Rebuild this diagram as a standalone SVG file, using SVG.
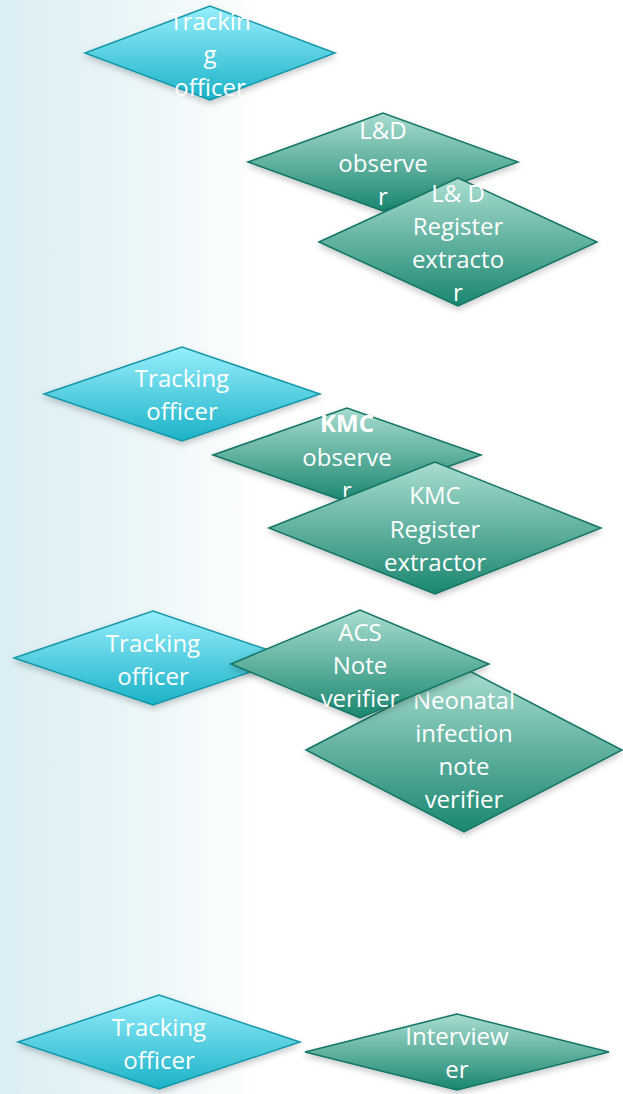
<svg xmlns="http://www.w3.org/2000/svg" width="623" height="1094" viewBox="0 0 623 1094">
<defs>
<linearGradient id="bg" x1="0" y1="0" x2="1" y2="0">
<stop offset="0" stop-color="#dbeef4"/>
<stop offset="0.2" stop-color="#e9f5f7"/>
<stop offset="0.42" stop-color="#ffffff"/>
<stop offset="1" stop-color="#ffffff"/>
</linearGradient>
<linearGradient id="cyan" x1="0" y1="0" x2="0" y2="1">
<stop offset="0" stop-color="#97eefb"/>
<stop offset="1" stop-color="#1bb2c8"/>
</linearGradient>
<linearGradient id="teal" x1="0" y1="0" x2="0" y2="1">
<stop offset="0" stop-color="#a9ddd0"/>
<stop offset="1" stop-color="#1a8670"/>
</linearGradient>
<filter id="sh" x="-10%" y="-20%" width="120%" height="150%">
<feDropShadow dx="0" dy="3" stdDeviation="3" flood-color="#000" flood-opacity="0.22"/>
</filter>
</defs>
<style>
.c{fill:url(#cyan);stroke:#1697a9;stroke-width:1.5;stroke-linejoin:miter;filter:url(#sh)}
.t{fill:url(#teal);stroke:#137565;stroke-width:1.5;stroke-linejoin:miter;filter:url(#sh)}
text{font-family:"Open Sans","Liberation Sans",sans-serif;font-size:24px;fill:#ffffff;text-anchor:middle}
.b{font-weight:bold}
</style>
<rect x="0" y="0" width="623" height="1094" fill="url(#bg)"/>
<g id="connectors"></g>
<g id="n1">
<polygon class="c" points="85,53 210,6 335,53 210,100"/>
<text x="210" y="30">Trackin</text><text x="210" y="63">g</text><text x="210" y="96">officer</text>
</g>
<g id="n2">
<polygon class="t" points="248,162 383,113 518,162 383,211"/>
<text x="383" y="139">L&amp;D</text><text x="383" y="172">observe</text><text x="383" y="205">r</text>
</g>
<g id="n3">
<polygon class="t" points="319,242 458,178 597,242 458,306"/>
<text x="458" y="202">L&amp; D</text><text x="458" y="235">Register</text><text x="458" y="268">extracto</text><text x="458" y="301">r</text>
</g>
<g id="n4">
<polygon class="c" points="44,394 182,347 320,394 182,441"/>
<text x="182" y="387">Tracking</text><text x="182" y="420">officer</text>
</g>
<g id="n5">
<polygon class="t" points="213,455 347,408 481,455 347,502"/>
<text x="347" y="432" class="b">KMC</text><text x="347" y="466">observe</text><text x="347" y="499">r</text>
</g>
<g id="n6">
<polygon class="t" points="269,528 435,462 601,528 435,594"/>
<text x="435" y="504">KMC</text><text x="435" y="538">Register</text><text x="435" y="571">extractor</text>
</g>
<g id="n7">
<polygon class="c" points="14,658 153,611 292,658 153,705"/>
<text x="153" y="652">Tracking</text><text x="153" y="685">officer</text>
</g>
<g id="n9">
<polygon class="t" points="306,750 464,668 622,750 464,832"/>
<text x="464" y="709">Neonatal</text><text x="464" y="742">infection</text><text x="464" y="775">note</text><text x="464" y="808">verifier</text>
</g>
<g id="n8">
<polygon class="t" points="231,664 360,610 489,664 360,718"/>
<text x="360" y="641">ACS</text><text x="360" y="674">Note</text><text x="360" y="707">verifier</text>
</g>
<g id="n10">
<polygon class="c" points="18,1042 159,995 300,1042 159,1089"/>
<text x="159" y="1036">Tracking</text><text x="159" y="1069">officer</text>
</g>
<g id="n11">
<polygon class="t" points="305,1052 457,1014 609,1052 457,1090"/>
<text x="457" y="1045">Interview</text><text x="457" y="1078">er</text>
</g>
</svg>
